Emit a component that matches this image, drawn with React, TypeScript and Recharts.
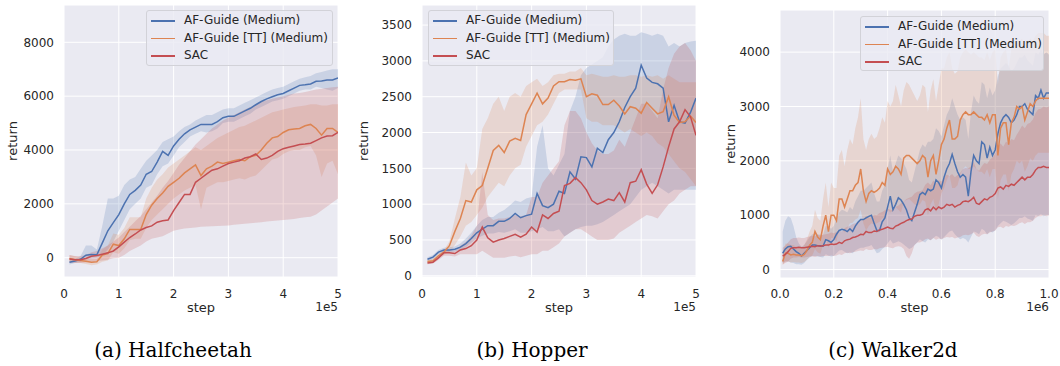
import React from "react";
import { Area, CartesianGrid, ComposedChart, Line, XAxis, YAxis } from "recharts";

// ---- Halfcheetah (steps 1e4 .. 5e5) ----
const hcSteps = Array.from({ length: 50 }, (_, i) => (i + 1) * 10000);
const hcBlue = [-170, -120, -60, 90, 120, 110, 550, 1000, 1300, 1600, 2000, 2350, 2500, 2700, 3100, 3200, 3550, 3950, 3800, 4150, 4400, 4600, 4750, 4850, 4950, 4950, 4950, 5050, 5200, 5250, 5250, 5350, 5450, 5550, 5680, 5800, 5900, 5980, 6050, 6100, 6200, 6300, 6400, 6420, 6450, 6550, 6560, 6600, 6600, 6680];
const hcBlueLo = [-250, -200, -150, -50, -20, 0, 100, 300, 600, 1000, 1400, 1800, 2000, 2200, 2600, 2700, 3100, 3400, 3500, 3800, 4100, 4300, 4500, 4600, 4700, 4650, 4700, 4800, 5000, 5050, 5050, 5150, 5250, 5350, 5500, 5600, 5700, 5800, 5850, 5900, 6000, 6100, 6200, 6250, 6250, 6350, 6300, 6250, 6200, 6300];
const hcBlueHi = [-100, -50, 50, 450, 450, 300, 1200, 2200, 2200, 2300, 2700, 2900, 3000, 3300, 3600, 3800, 4000, 4300, 4400, 4500, 4700, 4850, 4950, 5100, 5200, 5300, 5300, 5400, 5500, 5550, 5550, 5650, 5750, 5850, 5950, 6050, 6150, 6250, 6300, 6350, 6450, 6550, 6650, 6700, 6750, 6850, 6900, 6950, 7000, 7000];
const hcOrange = [-30, -80, -100, -130, -170, -150, 100, 150, 500, 450, 700, 1050, 1050, 1050, 1600, 1950, 2200, 2400, 2650, 2800, 2950, 3150, 3300, 3450, 3050, 3300, 3400, 3550, 3500, 3550, 3600, 3650, 3600, 3750, 3800, 4000, 4250, 4450, 4500, 4650, 4750, 4780, 4800, 4900, 4950, 4800, 4550, 4800, 4800, 4650];
const hcOrangeLo = [-150, -180, -200, -230, -280, -250, -150, -100, 200, 150, 350, 650, 700, 700, 1100, 1400, 1600, 1800, 2000, 2200, 2350, 2500, 2600, 2700, 1800, 2600, 2700, 2800, 2800, 2850, 2900, 2950, 2900, 3000, 3050, 3250, 3450, 3650, 3700, 3850, 3950, 4000, 4000, 4100, 4150, 3800, 3000, 3500, 3600, 3100];
const hcOrangeHi = [100, 50, 0, -30, -60, -50, 300, 450, 900, 850, 1100, 1500, 1500, 1500, 2200, 2600, 2900, 3100, 3350, 3500, 3650, 3800, 3950, 4100, 4000, 4150, 4300, 4450, 4550, 4650, 4750, 4850, 4900, 5000, 5100, 5200, 5300, 5400, 5450, 5500, 5550, 5600, 5620, 5650, 5700, 5700, 5650, 5650, 5700, 5700];
const hcRed = [-50, -80, -80, -30, 50, 80, 130, 180, 250, 400, 580, 750, 880, 1030, 1120, 1180, 1320, 1370, 1400, 1750, 2050, 2350, 2350, 2800, 2950, 3100, 3250, 3300, 3400, 3500, 3550, 3600, 3700, 3750, 3850, 3650, 3700, 3800, 3950, 4050, 4100, 4150, 4200, 4220, 4250, 4350, 4450, 4520, 4530, 4650];
const hcRedLo = [-200, -200, -200, -180, -150, -120, -100, -80, -20, 0, 100, 250, 350, 450, 600, 700, 750, 800, 900, 1000, 1050, 1080, 1100, 1120, 1150, 1160, 1170, 1180, 1190, 1200, 1220, 1240, 1260, 1280, 1300, 1320, 1340, 1360, 1380, 1400, 1420, 1440, 1470, 1500, 1520, 1600, 1750, 1900, 2050, 2200];
const hcRedHi = [100, 60, 60, 100, 200, 250, 350, 450, 600, 750, 950, 1150, 1350, 1550, 1800, 2050, 2300, 2600, 2850, 3150, 3450, 3700, 3950, 4200, 4400, 4600, 4800, 4950, 5100, 5200, 5300, 5400, 5500, 5600, 5700, 5800, 5850, 5900, 5950, 6000, 6050, 6100, 6120, 6150, 6200, 6250, 6270, 6300, 6330, 6350];

// ---- Hopper (steps 1e4 .. 5e5) ----
const hpSteps = Array.from({ length: 50 }, (_, i) => (i + 1) * 10000);
const hpBlue = [230, 260, 330, 360, 360, 370, 400, 450, 520, 600, 650, 700, 700, 760, 760, 800, 870, 810, 840, 860, 1150, 980, 950, 1000, 1180, 1150, 1450, 1350, 1660, 1650, 1520, 1780, 1720, 1900, 2000, 2150, 2350, 2500, 2620, 2940, 2760, 2700, 2680, 2620, 2150, 2380, 2150, 2130, 2280, 2480];
const hpBlueLo = [200, 230, 300, 330, 330, 340, 360, 400, 460, 520, 560, 590, 590, 610, 600, 620, 650, 600, 600, 620, 650, 680, 620, 620, 650, 550, 600, 650, 680, 700, 700, 720, 750, 800, 850, 900, 950, 1000, 1100, 1200, 1250, 1300, 1250, 1200, 1150, 1200, 1200, 1200, 1200, 1200];
const hpBlueHi = [260, 290, 360, 390, 400, 410, 450, 520, 600, 700, 780, 820, 820, 880, 920, 980, 1050, 1030, 1080, 1100, 1800, 2100, 1500, 1400, 1550, 1700, 2300, 2500, 2800, 2900, 2950, 3000, 3050, 3200, 3300, 3350, 3380, 3350, 3350, 3400, 3380, 3350, 3380, 3350, 3200, 3250, 3200, 3250, 3270, 3280];
const hpOrange = [200, 210, 280, 330, 420, 620, 800, 1050, 1030, 1200, 1260, 1500, 1750, 1820, 1720, 1880, 1920, 1890, 2250, 2400, 2550, 2400, 2480, 2650, 2710, 2710, 2740, 2730, 2750, 2500, 2540, 2520, 2390, 2390, 2450, 2370, 2260, 2360, 2340, 2270, 2420, 2340, 2260, 2290, 2500, 2240, 2140, 2150, 2230, 2140];
const hpOrangeLo = [180, 190, 250, 290, 340, 430, 550, 700, 750, 850, 950, 1100, 1200, 1300, 1250, 1400, 1500, 1550, 1800, 1950, 2100, 2150, 2250, 2400, 2550, 2600, 2600, 2600, 2600, 2200, 2150, 2150, 2100, 2100, 2100, 2050, 2000, 2050, 2000, 1950, 2000, 1950, 1850, 1800, 1700, 1600, 1500, 1450, 1350, 1250];
const hpOrangeHi = [220, 240, 310, 360, 480, 800, 1100, 1580, 1400, 1500, 2050, 2200, 2400, 2500, 2300, 2500, 2550, 2500, 2650, 2700, 2750, 2650, 2700, 2800, 2820, 2820, 2850, 2850, 2900, 2800, 2820, 2800, 2780, 2780, 2800, 2780, 2780, 2800, 2800, 2780, 2800, 2780, 2800, 2750, 2800, 2750, 2700, 2700, 2700, 2700];
const hpRed = [180, 190, 250, 320, 320, 310, 360, 380, 420, 500, 680, 530, 470, 500, 520, 550, 580, 540, 580, 680, 610, 850, 800, 870, 900, 1260, 1290, 1370, 1300, 1200, 1050, 1000, 1030, 1070, 1050, 1160, 1030, 1300, 1320, 1480, 1280, 1150, 1270, 1520, 1800, 2050, 2150, 2320, 2220, 1960];
const hpRedLo = [160, 170, 220, 280, 280, 270, 300, 300, 300, 300, 350, 300, 250, 250, 250, 270, 280, 260, 280, 300, 300, 350, 350, 400, 450, 550, 600, 650, 650, 600, 550, 500, 500, 500, 520, 600, 650, 700, 750, 800, 850, 830, 800, 900, 1000, 1050, 1150, 1200, 1250, 1250];
const hpRedHi = [200, 210, 280, 360, 360, 350, 420, 470, 560, 700, 1450, 850, 780, 800, 800, 820, 850, 830, 850, 1100, 1100, 1300, 1400, 1500, 1600, 2100, 2300, 2300, 2200, 2000, 1850, 1750, 1700, 1700, 1750, 1900, 1800, 2000, 2200, 2400, 2400, 2300, 2200, 2600, 2900, 3100, 3200, 3250, 3150, 3000];

// ---- Walker2d (steps 1e4 .. 1e6) ----
const wkSteps = Array.from({ length: 100 }, (_, i) => (i + 1) * 10000);
const wkBlue = [300, 380, 420, 430, 380, 330, 300, 250, 300, 350, 400, 450, 450, 440, 440, 430, 550, 530, 500, 550, 650, 720, 740, 730, 700, 750, 700, 800, 870, 920, 920, 950, 980, 1000, 850, 720, 720, 880, 950, 1150, 1350, 1100, 1200, 1320, 1280, 1200, 1100, 950, 900, 1050, 1200, 1380, 1420, 1380, 1480, 1450, 1480, 1650, 1600, 1500, 1700, 1850, 1950, 2120, 1950, 1800, 1700, 1750, 1700, 1350, 1800, 2100, 2000, 1950, 2350, 2300, 2050, 2250, 2100, 2200, 2500, 2700, 2800, 2850, 2800, 2700, 2750, 2850, 3000, 3000, 3050, 2950, 2900, 2850, 3200, 3150, 3300, 3150, 3250, 3250];
const wkBlueLo = [120, 150, 150, 130, 120, 100, 100, 90, 120, 180, 220, 250, 250, 240, 230, 220, 280, 260, 240, 250, 300, 350, 360, 330, 300, 320, 300, 350, 380, 400, 400, 420, 430, 450, 380, 300, 320, 380, 420, 480, 550, 480, 500, 520, 500, 460, 420, 380, 400, 450, 500, 560, 520, 500, 560, 540, 580, 620, 600, 550, 600, 650, 700, 720, 650, 600, 560, 580, 560, 500, 600, 700, 680, 650, 750, 720, 650, 700, 680, 720, 800, 850, 900, 880, 850, 820, 850, 900, 950, 950, 980, 940, 920, 900, 1000, 980, 1020, 980, 1000, 1000];
const wkBlueHi = [700, 900, 980, 950, 800, 600, 480, 420, 450, 520, 600, 650, 660, 650, 640, 640, 800, 780, 750, 800, 950, 1050, 1100, 1080, 1050, 1150, 1100, 1250, 1350, 1450, 1450, 1500, 1550, 1600, 1400, 1250, 1250, 1450, 1550, 1850, 2100, 1800, 1950, 2100, 2050, 1950, 1850, 1650, 1600, 1800, 2000, 2200, 2300, 2250, 2350, 2350, 2400, 2600, 2550, 2450, 2650, 2850, 2950, 3150, 3000, 2850, 2750, 2800, 2750, 2400, 2900, 3200, 3100, 3050, 3450, 3400, 3150, 3350, 3200, 3300, 3550, 3700, 3750, 3800, 3750, 3650, 3700, 3800, 3900, 3900, 3950, 3850, 3800, 3750, 4000, 3950, 4050, 3950, 4000, 3950];
const wkOrange = [150, 300, 300, 270, 280, 270, 270, 250, 280, 350, 450, 500, 700, 600, 550, 800, 1000, 700, 1000, 1000, 900, 1300, 1300, 1150, 1300, 1450, 1450, 1550, 1600, 1850, 1450, 1250, 1400, 1450, 1420, 1450, 1500, 1600, 1550, 1850, 1750, 1800, 1900, 1850, 1750, 2050, 2100, 2100, 2050, 2000, 1950, 2000, 2100, 2050, 1700, 2000, 2100, 1750, 2000, 2300, 2400, 2600, 2750, 2400, 2400, 2450, 2750, 2850, 2900, 2850, 2850, 2900, 2850, 2800, 2800, 2750, 2850, 2700, 2850, 2850, 2100, 2600, 2700, 2700, 2300, 2700, 2800, 3000, 2950, 3000, 2750, 2900, 3050, 3000, 3100, 3150, 3150, 3150, 3150, 3150];
const wkOrangeLo = [80, 150, 150, 130, 140, 130, 130, 120, 140, 180, 230, 260, 380, 320, 290, 450, 580, 400, 580, 580, 520, 750, 760, 680, 760, 850, 860, 920, 950, 1100, 850, 720, 800, 850, 830, 850, 880, 950, 920, 1100, 1050, 1080, 1150, 1100, 1050, 1250, 1280, 1300, 1250, 1200, 1180, 1200, 1280, 1250, 1000, 1200, 1300, 1050, 1200, 1400, 1500, 1650, 1750, 1500, 1500, 1550, 1750, 1850, 1900, 1850, 1850, 1900, 1850, 1800, 1800, 1750, 1850, 1700, 1850, 1850, 1300, 1650, 1750, 1750, 1450, 1750, 1850, 2000, 1950, 2000, 1800, 1900, 2050, 2000, 2100, 2150, 2150, 2150, 2150, 2150];
const wkOrangeHi = [300, 480, 480, 450, 450, 420, 420, 400, 450, 550, 700, 800, 1100, 950, 900, 1300, 1600, 1150, 1600, 1500, 1500, 2100, 2200, 1900, 2200, 2400, 2300, 2600, 2800, 3150, 2400, 2200, 2400, 2500, 2400, 2450, 2600, 2800, 2700, 3100, 3000, 3100, 3400, 3200, 3000, 3300, 3450, 3400, 3300, 3200, 3100, 3200, 3400, 3350, 2900, 3300, 3500, 3100, 3400, 3700, 3700, 3900, 4000, 3700, 3600, 3650, 3900, 4000, 4050, 4000, 3950, 4000, 3950, 3900, 3900, 3850, 4000, 3850, 4000, 4050, 3400, 3900, 4000, 4050, 3700, 4050, 4150, 4250, 4200, 4250, 4050, 4150, 4250, 4200, 4300, 4350, 4350, 4350, 4300, 4300];
const wkRed = [250, 280, 330, 390, 400, 400, 410, 400, 400, 410, 420, 430, 420, 440, 430, 440, 450, 450, 470, 460, 470, 500, 480, 530, 550, 560, 590, 600, 620, 650, 640, 700, 680, 680, 710, 700, 730, 740, 760, 780, 760, 750, 800, 820, 850, 870, 900, 920, 930, 980, 1000, 1000, 1020, 1100, 1120, 1080, 1150, 1100, 1150, 1120, 1150, 1200, 1180, 1200, 1150, 1180, 1200, 1250, 1260, 1250, 1280, 1330, 1220, 1200, 1250, 1300, 1280, 1330, 1350, 1400, 1500, 1520, 1480, 1550, 1530, 1570, 1550, 1600, 1650, 1700, 1650, 1700, 1700, 1750, 1830, 1880, 1880, 1900, 1880, 1880];
const wkRedLo = [100, 120, 150, 200, 220, 220, 230, 220, 220, 230, 240, 240, 230, 250, 240, 250, 250, 250, 260, 250, 260, 280, 270, 300, 310, 300, 320, 330, 340, 350, 340, 380, 360, 360, 380, 370, 390, 400, 410, 420, 400, 390, 420, 430, 420, 380, 250, 200, 300, 450, 500, 500, 520, 560, 570, 540, 580, 550, 570, 560, 580, 600, 590, 600, 570, 590, 600, 630, 640, 630, 650, 680, 620, 600, 640, 660, 650, 680, 700, 720, 780, 790, 760, 800, 790, 810, 800, 820, 850, 870, 840, 870, 870, 900, 950, 980, 980, 1000, 980, 1000];
const wkRedHi = [400, 440, 500, 560, 580, 580, 590, 580, 580, 600, 610, 620, 610, 640, 620, 640, 650, 660, 680, 670, 690, 720, 700, 760, 790, 800, 840, 850, 880, 920, 910, 990, 960, 960, 1010, 1000, 1040, 1060, 1090, 1120, 1100, 1090, 1150, 1180, 1220, 1250, 1300, 1320, 1340, 1400, 1430, 1440, 1460, 1560, 1600, 1550, 1640, 1580, 1650, 1620, 1680, 1750, 1720, 1760, 1700, 1740, 1780, 1850, 1870, 1860, 1900, 1980, 1850, 1820, 1900, 1960, 1940, 2020, 2060, 2130, 2280, 2320, 2260, 2350, 2330, 2400, 2380, 2480, 2560, 2650, 2600, 2680, 2700, 2760, 2880, 2950, 2960, 3000, 2980, 3000];

const seriesNames = ["AF-Guide (Medium)", "AF-Guide [TT] (Medium)", "SAC"];
const colors = ["#4C72B0", "#DD8452", "#C44E52"];
const captions = ["(a) Halfcheetah", "(b) Hopper", "(c) Walker2d"];

function buildRows(steps: number[], b: number[], bl: number[], bh: number[], o: number[], ol: number[], oh: number[], r: number[], rl: number[], rh: number[]) {
  return steps.map((step, i) => ({
    step,
    blue: b[i],
    blueBand: [bl[i], bh[i]],
    orange: o[i],
    orangeBand: [ol[i], oh[i]],
    red: r[i],
    redBand: [rl[i], rh[i]],
  }));
}

const hcData = buildRows(hcSteps, hcBlue, hcBlueLo, hcBlueHi, hcOrange, hcOrangeLo, hcOrangeHi, hcRed, hcRedLo, hcRedHi);
const hpData = buildRows(hpSteps, hpBlue, hpBlueLo, hpBlueHi, hpOrange, hpOrangeLo, hpOrangeHi, hpRed, hpRedLo, hpRedHi);
const wkData = buildRows(wkSteps, wkBlue, wkBlueLo, wkBlueHi, wkOrange, wkOrangeLo, wkOrangeHi, wkRed, wkRedLo, wkRedHi);

const textColor = "#262626";
const font = "'DejaVu Sans', sans-serif";

type PanelProps = {
  left: number;
  width: number;
  yWidth: number;
  marginTop: number;
  marginRight: number;
  xHeight: number;
  xTickMargin: number;
  data: any[];
  xMax: number;
  xTicks: number[];
  xFmt: (v: number) => string;
  yDomain: [number, number];
  yTicks: number[];
  yLabelOffset: number;
  exponent: string;
  legend: { left: number; top: number; width: number; height: number };
};

function Legend({ left, top, width, height }: PanelProps["legend"]) {
  return (
    <div
      style={{
        position: "absolute",
        left,
        top,
        width,
        height,
        boxSizing: "border-box",
        border: "1px solid #d2d2d8",
        borderRadius: 3,
        background: "rgba(234,234,242,0.8)",
        paddingTop: 1,
      }}
    >
      {seriesNames.map((name, i) => (
        <div key={name} style={{ display: "flex", alignItems: "center", height: 17.5 }}>
          <div style={{ marginLeft: 4, width: 24, height: 1.5, background: colors[i] }} />
          <span style={{ marginLeft: 9, fontSize: 12, color: textColor, whiteSpace: "nowrap", lineHeight: "17.5px" }}>{name}</span>
        </div>
      ))}
    </div>
  );
}

function Panel(p: PanelProps) {
  const plotRight = p.width - p.marginRight;
  return (
    <div style={{ position: "absolute", left: p.left, top: 0, width: p.width, height: 320 }}>
      <ComposedChart
        width={p.width}
        height={320}
        data={p.data}
        margin={{ top: p.marginTop, right: p.marginRight, left: 0, bottom: 0 }}
      >
        <CartesianGrid stroke="#ffffff" strokeWidth={1} fill="#EAEAF2" fillOpacity={1} />
        <XAxis
          dataKey="step"
          type="number"
          domain={[0, p.xMax]}
          ticks={p.xTicks}
          tickFormatter={p.xFmt}
          allowDataOverflow
          axisLine={false}
          tickLine={false}
          tickSize={0}
          tickMargin={p.xTickMargin}
          height={p.xHeight}
          tick={{ fill: textColor, fontSize: 12 }}
          label={{ value: "step", position: "insideBottom", offset: 8, style: { fill: textColor, fontSize: 13 } }}
        />
        <YAxis
          type="number"
          domain={p.yDomain}
          ticks={p.yTicks}
          allowDataOverflow
          width={p.yWidth}
          axisLine={false}
          tickLine={false}
          tickSize={0}
          tickMargin={10}
          tick={{ fill: textColor, fontSize: 12 }}
          label={{
            value: "return",
            angle: -90,
            position: "insideLeft",
            offset: p.yLabelOffset,
            style: { fill: textColor, fontSize: 13, textAnchor: "middle" },
          }}
        />
        <Area dataKey="blueBand" stroke="none" fill={colors[0]} fillOpacity={0.2} isAnimationActive={false} activeDot={false} />
        <Area dataKey="orangeBand" stroke="none" fill={colors[1]} fillOpacity={0.2} isAnimationActive={false} activeDot={false} />
        <Area dataKey="redBand" stroke="none" fill={colors[2]} fillOpacity={0.2} isAnimationActive={false} activeDot={false} />
        <Line dataKey="blue" stroke={colors[0]} strokeWidth={1.5} dot={false} activeDot={false} isAnimationActive={false} />
        <Line dataKey="orange" stroke={colors[1]} strokeWidth={1.5} dot={false} activeDot={false} isAnimationActive={false} />
        <Line dataKey="red" stroke={colors[2]} strokeWidth={1.5} dot={false} activeDot={false} isAnimationActive={false} />
      </ComposedChart>
      <Legend {...p.legend} />
      <div
        style={{
          position: "absolute",
          left: plotRight - 40,
          top: 300,
          width: 40,
          textAlign: "right",
          fontSize: 12,
          lineHeight: "14px",
          color: textColor,
        }}
      >
        {p.exponent}
      </div>
    </div>
  );
}

const x5Ticks = [0, 100000, 200000, 300000, 400000, 500000];
const x6Ticks = [0, 200000, 400000, 600000, 800000, 1000000];

export default function App() {
  return (
    <div style={{ position: "absolute", left: 0, top: 0, width: 1060, height: 366, background: "#ffffff", fontFamily: font }}>
      <Panel
        left={0}
        width={350}
        yWidth={64}
        marginTop={5}
        marginRight={12}
        xHeight={43}
        xTickMargin={12}
        data={hcData}
        xMax={500000}
        xTicks={x5Ticks}
        xFmt={(v) => String(v / 100000)}
        yDomain={[-717, 9385]}
        yTicks={[0, 2000, 4000, 6000, 8000]}
        yLabelOffset={12.5}
        exponent="1e5"
        legend={{ left: 146, top: 10, width: 187, height: 56 }}
      />
      <Panel
        left={348}
        width={360}
        yWidth={74}
        marginTop={5}
        marginRight={12}
        xHeight={43}
        xTickMargin={12}
        data={hpData}
        xMax={500000}
        xTicks={x5Ticks}
        xFmt={(v) => String(v / 100000)}
        yDomain={[-17, 3780]}
        yTicks={[0, 500, 1000, 1500, 2000, 2500, 3000, 3500]}
        yLabelOffset={15}
        exponent="1e5"
        legend={{ left: 80, top: 10, width: 186, height: 56 }}
      />
      <Panel
        left={716}
        width={344}
        yWidth={64}
        marginTop={10}
        marginRight={11}
        xHeight={42}
        xTickMargin={11}
        data={wkData}
        xMax={1000000}
        xTicks={x6Ticks}
        xFmt={(v) => (v / 1000000).toFixed(1)}
        yDomain={[-155, 4775]}
        yTicks={[0, 1000, 2000, 3000, 4000]}
        yLabelOffset={14}
        exponent="1e6"
        legend={{ left: 144, top: 16, width: 184, height: 55 }}
      />
      {captions.map((c, i) => (
        <div
          key={c}
          style={{
            position: "absolute",
            left: [173, 532, 893][i] - 120,
            top: 338,
            width: 240,
            textAlign: "center",
            fontFamily: "'DejaVu Serif', serif",
            fontSize: 20,
            lineHeight: "24px",
            color: "#000000",
          }}
        >
          {c}
        </div>
      ))}
    </div>
  );
}
